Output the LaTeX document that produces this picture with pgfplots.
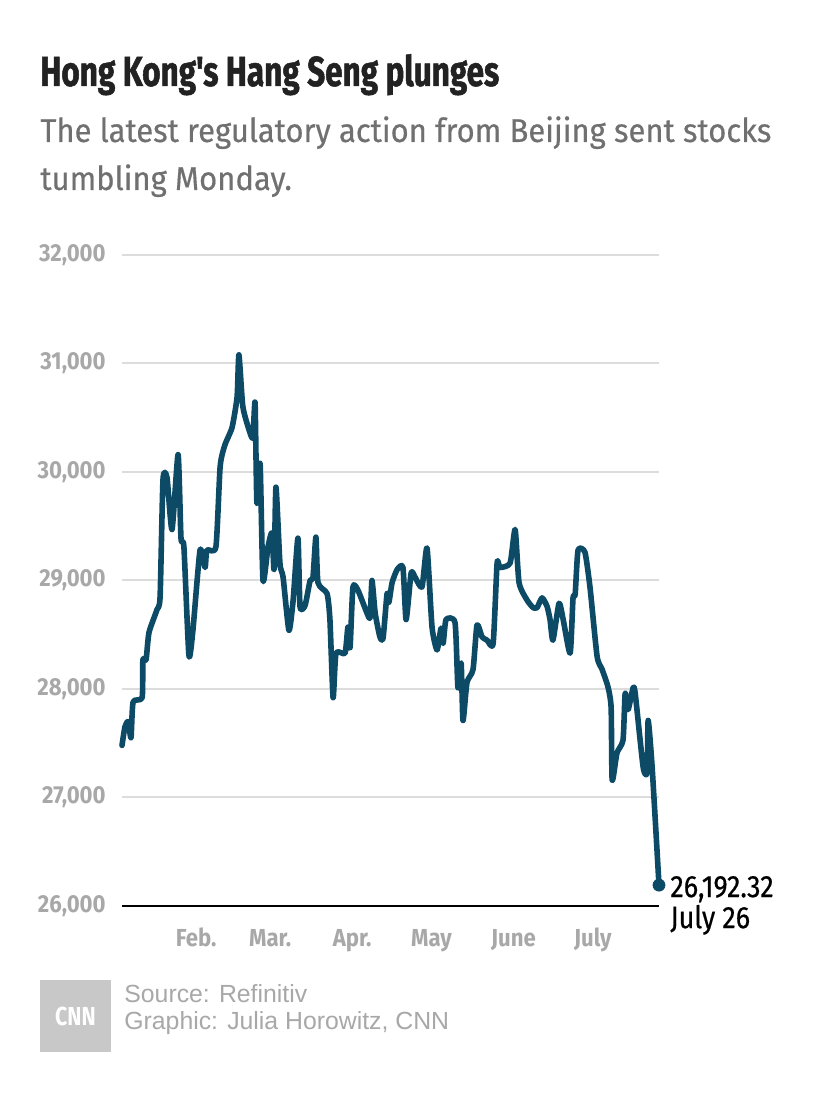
\documentclass[border=0pt]{standalone}
\usepackage{fontspec}
\setmainfont{Fira Sans}
\newfontfamily\condfont[FakeStretch=0.82]{Fira Sans}
\newfontfamily\tickfont[FakeStretch=0.9]{Fira Sans}
\newfontfamily\titlefont[FakeStretch=0.75,FakeBold=1.2]{Fira Sans}
\newfontfamily\subfont[FakeStretch=0.94,FakeBold=0.4]{Fira Sans}
\newfontfamily\annfont[FakeStretch=0.87,FakeBold=0.5]{Fira Sans}
\newfontfamily\srcfont{Liberation Sans}
\usepackage{pgfplots}
\pgfplotsset{compat=1.18}
\definecolor{linecol}{HTML}{0C4A66}
\definecolor{titlecol}{HTML}{222222}
\definecolor{subcol}{HTML}{707070}
\definecolor{tickcol}{HTML}{A8A8A8}
\definecolor{gridcol}{HTML}{DCDCDC}
\definecolor{srccol}{HTML}{A8A8A8}
\definecolor{logocol}{HTML}{C8C8C8}
\begin{document}
\begin{tikzpicture}
\path[fill=white] (0,0) rectangle (415pt,551pt);
\node[anchor=base west, inner sep=0pt, text=titlecol, font=\titlefont\bfseries\fontsize{21}{24}\selectfont] at (20pt,508pt) {Hong Kong's Hang Seng plunges};
\node[anchor=base west, inner sep=0pt, text=subcol, font=\subfont\fontsize{16.5}{20}\selectfont] at (20pt,480pt) {The latest regulatory action from Beijing sent stocks};
\node[anchor=base west, inner sep=0pt, text=subcol, font=\subfont\fontsize{16.5}{20}\selectfont] at (20pt,456pt) {tumbling Monday.};
\begin{axis}[
  at={(61pt,98pt)}, anchor=south west,
  scale only axis, width=268.5pt, height=325.5pt,
  xmin=0, xmax=203, ymin=26000, ymax=32000,
  clip=false,
  axis x line*=bottom, axis y line*=left,
  x axis line style={black, line width=1.2pt, -},
  y axis line style={draw=none},
  ymajorgrids, major grid style={gridcol, line width=1pt},
  major tick length=0pt,
  ytick={26000,27000,...,32000},
  scaled y ticks=false,
  yticklabel={\pgfmathprintnumber[fixed,precision=0,1000 sep={,}]{\tick}},
  xtick={28,56,87,117,148,178},
  xticklabels={Feb.,Mar.,Apr.,May,June,July},
  /pgf/number format/assume math mode=true,
  yticklabel style={anchor=east, inner sep=0pt, xshift=-8pt, text=tickcol, font=\tickfont\bfseries\fontsize{12.3}{14}\selectfont},
  xticklabel style={anchor=base, inner sep=0pt, yshift=-20pt, text=tickcol, font=\tickfont\bfseries\fontsize{12.3}{14}\selectfont},
]
\addplot[linecol, line width=2.8pt, line join=round, line cap=round, smooth, tension=0.35] coordinates {
(0,27480) (1.1,27650) (2.3,27700) (3.4,27550) (4.2,27880) (7.6,27920) (7.9,28270) (9.1,28270)
(10.2,28520) (13.2,28730) (14.4,28850) (15.5,29930) (17.0,29950) (18.9,29470) (21.2,30160)
(22.3,29390) (23.4,29310) (25.3,28310) (26.8,28540) (29.5,29280) (31.4,29120) (32.1,29280)
(35.5,29310) (37.1,30050) (38.9,30250) (41.6,30410) (43.5,30690) (44.2,31080) (45.7,30600)
(48.4,30360) (49.5,30320) (50.3,30640) (51.0,29710) (52.2,30080) (53.3,29000) (55.2,29310)
(56.7,29440) (57.5,29100) (58.2,29860) (59.7,29160) (60.9,29030) (63.1,28540) (64.7,28820)
(66.5,29390) (67.3,28760) (69.2,28770) (71.1,29000) (72.2,29030) (73.3,29400) (74.1,28980)
(77.5,28880) (78.6,28640) (79.8,27920) (80.9,28330) (84.3,28330) (85.4,28570) (86.2,28380)
(87.3,28940) (89.2,28910) (92.6,28700) (93.8,28660) (94.5,29000) (95.7,28700) (97.5,28480)
(98.7,28470) (100.2,28880) (100.9,28800) (102.1,28980) (104.0,29100) (106.2,29120) (107.4,28640)
(109.3,29070) (110.8,29030) (113.4,28940) (115.3,29300) (117.2,28570) (119.1,28360) (120.6,28560)
(121.4,28420) (122.5,28640) (125.9,28610) (127.0,28010) (128.2,28240) (128.9,27710) (130.4,28060)
(132.7,28180) (134.2,28590) (136.1,28480) (138.0,28450) (140.3,28420) (141.8,29160) (142.9,29120)
(146.7,29160) (148.6,29470) (150.1,28980) (153.1,28820) (155.4,28750) (156.9,28750) (158.8,28840)
(160.7,28760) (161.8,28640) (162.9,28450) (165.2,28790) (166.7,28650) (169.4,28330) (170.5,28840)
(171.3,28870) (172.4,29280) (175.0,29260) (176.9,28940) (179.6,28300) (181.5,28180) (183.7,28020)
(184.9,27830) (185.3,27160) (187.1,27410) (189.4,27530) (190.2,27960) (191.3,27810) (193.2,28010)
(194.0,27960) (197.0,27280) (198.5,27230) (198.9,27710) (200.4,27280) (203,26192.32)
};
\addplot[only marks, mark=*, mark size=3pt, color=linecol] coordinates {(203,26192.32)};
\node[anchor=base west, inner sep=0pt, font=\annfont\fontsize{15.5}{17}\selectfont] at (axis cs:203,26192.32) [xshift=5.5pt, yshift=-6pt] {26,192.32};
\node[anchor=base west, inner sep=0pt, font=\annfont\fontsize{15.5}{17}\selectfont] at (axis cs:203,26192.32) [xshift=5.5pt, yshift=-21.5pt] {July 26};
\end{axis}
\fill[logocol] (20pt,25pt) rectangle (55.5pt,61pt);
\node[text=white, font=\condfont\bfseries\fontsize{13}{15}\selectfont, inner sep=0pt] at (37.75pt,43pt) {CNN};
\node[anchor=base west, inner sep=0pt, text=srccol, font=\srcfont\fontsize{12.4}{14}\selectfont] at (62pt,49.5pt) {Source: Refinitiv};
\node[anchor=base west, inner sep=0pt, text=srccol, font=\srcfont\fontsize{12.4}{14}\selectfont] at (62pt,36pt) {Graphic: Julia Horowitz, CNN};
\end{tikzpicture}
\end{document}
